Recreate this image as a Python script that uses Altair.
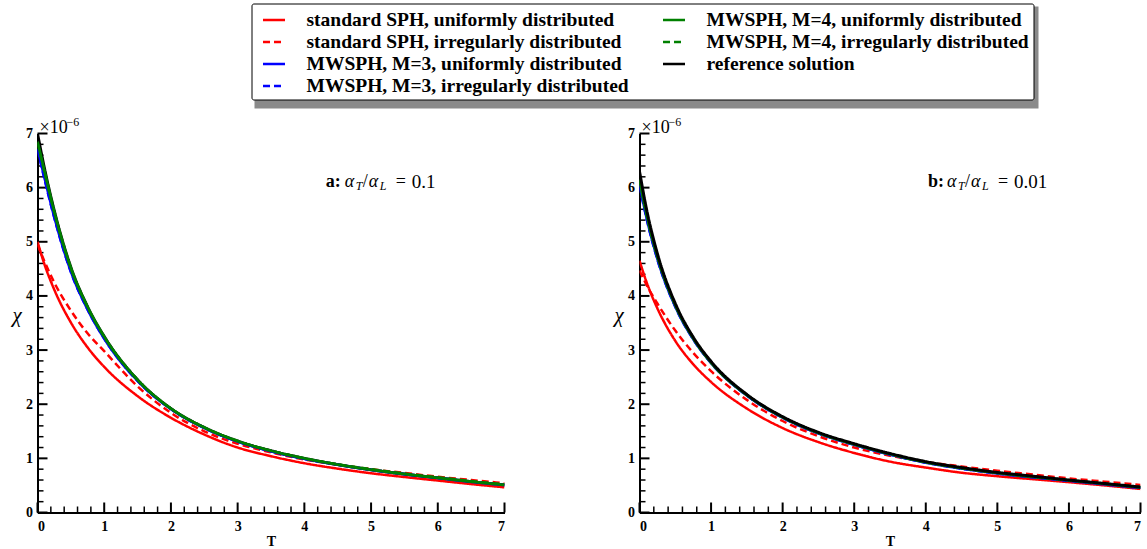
import altair as alt
import pandas as pd

# ---------------- data ----------------
T = [0, 0.1, 0.25, 0.5, 0.75, 1, 1.5, 2, 2.5, 3, 3.5, 4, 4.5, 5, 5.5, 6, 6.5, 7]

# panel a: alpha_T/alpha_L = 0.1
a_sph_uni = [5.0, 4.6, 4.12, 3.51, 3.05, 2.69, 2.15, 1.75, 1.44, 1.20, 1.04, 0.91, 0.81, 0.725, 0.655, 0.59, 0.525, 0.465]
a_sph_irr = [4.95, 4.65, 4.25, 3.73, 3.31, 2.98, 2.33, 1.84, 1.50, 1.27, 1.11, 0.98, 0.885, 0.80, 0.73, 0.66, 0.60, 0.54]
a_m3_uni = [6.72, 6.2, 5.46, 4.45, 3.75, 3.21, 2.43, 1.91, 1.56, 1.31, 1.13, 0.99, 0.88, 0.785, 0.705, 0.635, 0.565, 0.505]
a_m3_irr = [6.70, 6.18, 5.45, 4.44, 3.75, 3.21, 2.43, 1.91, 1.56, 1.31, 1.13, 0.99, 0.885, 0.79, 0.71, 0.64, 0.57, 0.51]
a_m4_uni = [6.85, 6.33, 5.56, 4.52, 3.80, 3.25, 2.45, 1.92, 1.57, 1.32, 1.14, 1.0, 0.885, 0.79, 0.71, 0.64, 0.57, 0.51]
a_m4_irr = [6.83, 6.31, 5.55, 4.51, 3.79, 3.24, 2.45, 1.92, 1.57, 1.32, 1.14, 1.0, 0.89, 0.80, 0.72, 0.65, 0.58, 0.52]
a_ref = [7.0, 6.38, 5.58, 4.53, 3.80, 3.25, 2.45, 1.92, 1.57, 1.32, 1.14, 1.0, 0.885, 0.79, 0.71, 0.64, 0.57, 0.51]

# panel b: alpha_T/alpha_L = 0.01
b_sph_uni = [4.65, 4.25, 3.77, 3.17, 2.74, 2.41, 1.92, 1.56, 1.30, 1.10, 0.94, 0.83, 0.735, 0.67, 0.615, 0.56, 0.50, 0.435]
b_sph_irr = [4.47, 4.2, 3.86, 3.36, 2.95, 2.61, 2.08, 1.69, 1.41, 1.20, 1.05, 0.935, 0.85, 0.77, 0.70, 0.63, 0.57, 0.51]
b_m3_uni = [6.05, 5.43, 4.68, 3.80, 3.20, 2.76, 2.16, 1.75, 1.46, 1.25, 1.07, 0.92, 0.81, 0.72, 0.65, 0.585, 0.52, 0.455]
b_m3_irr = [6.03, 5.42, 4.67, 3.80, 3.20, 2.76, 2.16, 1.75, 1.46, 1.25, 1.07, 0.92, 0.81, 0.72, 0.65, 0.585, 0.52, 0.455]
b_m4_uni = [6.15, 5.50, 4.73, 3.83, 3.22, 2.77, 2.17, 1.76, 1.47, 1.26, 1.08, 0.93, 0.82, 0.73, 0.66, 0.595, 0.53, 0.465]
b_m4_irr = [6.14, 5.49, 4.72, 3.83, 3.22, 2.77, 2.17, 1.76, 1.47, 1.26, 1.08, 0.93, 0.82, 0.73, 0.66, 0.595, 0.53, 0.465]
b_ref = [6.3, 5.59, 4.78, 3.86, 3.24, 2.79, 2.18, 1.77, 1.48, 1.27, 1.09, 0.94, 0.83, 0.74, 0.67, 0.60, 0.535, 0.47]

SERIES = [
    "standard SPH, uniformly distributed",
    "standard SPH, irregularly distributed",
    "MWSPH, M=3, uniformly distributed",
    "MWSPH, M=3, irregularly distributed",
    "MWSPH, M=4, uniformly distributed",
    "MWSPH, M=4, irregularly distributed",
    "reference solution",
]
COLORS = ["#ff0000", "#ff0000", "#0000ff", "#0000ff", "#008000", "#008000", "#000000"]
DASHES = [[1, 0], [7, 4], [1, 0], [7, 4], [1, 0], [7, 4], [1, 0]]
WIDTHS = [2.5, 2.5, 2.5, 2.5, 2.8, 2.5, 3.0]

A_VALUES = [a_sph_uni, a_sph_irr, a_m3_uni, a_m3_irr, a_m4_uni, a_m4_irr, a_ref]
B_VALUES = [b_sph_uni, b_sph_irr, b_m3_uni, b_m3_irr, b_m4_uni, b_m4_irr, b_ref]
A_ORDER = [6, 0, 1, 2, 3, 4, 5]        # reference hidden under green on panel a
B_ORDER = [0, 1, 2, 3, 4, 5, 6]

MAJOR = [0, 1, 2, 3, 4, 5, 6, 7]
MINOR = [0.2, 0.4, 0.6, 0.8, 1.2, 1.4, 1.6, 1.8, 2.2, 2.4, 2.6, 2.8, 3.2, 3.4, 3.6, 3.8,
         4.2, 4.4, 4.6, 4.8, 5.2, 5.4, 5.6, 5.8, 6.2, 6.4, 6.6, 6.8]

SERIF = "Liberation Serif"
H = 379
LEG_X, LEG_Y = 214, -130
LEG_W, LEG_H = 784, 102

cscale = alt.Scale(domain=SERIES, range=COLORS)
dscale = alt.Scale(domain=SERIES, range=DASHES)
legend = alt.Legend(orient="none", legendX=LEG_X, legendY=LEG_Y, title=None, columns=2)

XSCALE = alt.Scale(domain=[0, 7], nice=False, zero=False)
YSCALE = alt.Scale(domain=[0, 7], nice=False, zero=False)


def xenc(field):
    return alt.X(field, type="quantitative", scale=XSCALE,
                 axis=alt.Axis(title="T", values=MAJOR, format="d"))


def yenc(field):
    return alt.Y(field, type="quantitative", scale=YSCALE,
                 axis=alt.Axis(title="χ", values=MAJOR, format="d", titleAngle=0,
                               titleX=-21, titleY=182, titleAlign="center",
                               titleBaseline="middle"))


def panel(values, order, width, letter, number, shadow):
    layers = []
    one = pd.DataFrame({"k": [0]})
    if shadow:
        # drop shadow of the legend box
        layers.append(alt.Chart(one).mark_rect(color="#8a8a8a").encode(
            x=alt.value(LEG_X + 3), x2=alt.value(LEG_X + LEG_W + 3),
            y=alt.value(LEG_Y + 3), y2=alt.value(LEG_Y + LEG_H + 3)))
    # inward tick marks
    tmaj = pd.DataFrame({"v": MAJOR})
    tmin = pd.DataFrame({"v": MINOR})
    layers.append(alt.Chart(tmaj).mark_rule(color="black", strokeWidth=2).encode(
        y=yenc("v"), x=alt.value(0), x2=alt.value(10)))
    layers.append(alt.Chart(tmin).mark_rule(color="black", strokeWidth=1.5).encode(
        y=yenc("v"), x=alt.value(0), x2=alt.value(6)))
    layers.append(alt.Chart(tmaj).mark_rule(color="black", strokeWidth=2).encode(
        x=xenc("v"), y=alt.value(H), y2=alt.value(H - 10)))
    layers.append(alt.Chart(tmin).mark_rule(color="black", strokeWidth=1.5).encode(
        x=xenc("v"), y=alt.value(H), y2=alt.value(H - 6)))

    for i in order:
        df = pd.DataFrame({"T": T, "chi": values[i], "series": SERIES[i]})
        layers.append(alt.Chart(df).mark_line(strokeWidth=WIDTHS[i], interpolate="monotone",
                                              clip=True).encode(
            x=xenc("T"), y=yenc("chi"),
            color=alt.Color("series:N", scale=cscale, legend=legend),
            strokeDash=alt.StrokeDash("series:N", scale=dscale, legend=legend)))

    # x10^-6 multiplier
    layers.append(alt.Chart(one).mark_text(text="×10", font=SERIF, fontSize=18, align="left",
                                           baseline="middle", dx=2, dy=-6, color="black").encode(
        x=alt.datum(0), y=alt.datum(7)))
    layers.append(alt.Chart(one).mark_text(text="−6", font=SERIF, fontSize=12, align="left",
                                           baseline="middle", dx=29, dy=-12, color="black").encode(
        x=alt.datum(0), y=alt.datum(7)))
    # panel annotation
    ann_T = 4.32 if letter == "a:" else 4.03
    pieces = [
        (letter, 0, 0, 18, "bold", "normal"),
        ("α", 19, 0, 18, "normal", "italic"),
        ("T", 30, 4, 12, "normal", "italic"),
        ("/", 37, 0, 18, "normal", "normal"),
        ("α", 43, 0, 18, "normal", "italic"),
        ("L", 54, 4, 12, "normal", "italic"),
        ("=", 70, 0, 18, "normal", "normal"),
        (number, 86, 0, 19, "normal", "normal"),
    ]
    for txt, dx, dy, fs, fw, st in pieces:
        layers.append(alt.Chart(one).mark_text(text=txt, font=SERIF, fontSize=fs, fontWeight=fw,
                                               fontStyle=st, align="left", baseline="middle",
                                               dx=dx, dy=dy, color="black").encode(
            x=alt.datum(ann_T), y=alt.datum(6.11)))
    return alt.layer(*layers).properties(width=width, height=H)


left = panel(A_VALUES, A_ORDER, 467, "a:", "0.1", True)
right = panel(B_VALUES, B_ORDER, 501, "b:", "0.01", False)

chart = alt.hconcat(left, right, spacing=135, bounds="flush").properties(
    padding={"left": 11.5, "top": 2.5, "right": 0, "bottom": 0},
    background="white",
).configure_view(stroke=None).configure_axis(
    ticks=False, grid=False, domainColor="black", domainWidth=2,
    labelFont=SERIF, labelFontSize=14, labelFontWeight="bold", labelColor="black",
    titleColor="black", titleFont=SERIF,
).configure_axisX(
    labelPadding=7, titleFontSize=14, titleFontWeight="bold", titlePadding=1,
).configure_axisY(
    labelPadding=5, titleFontSize=21, titleFontStyle="italic", titleFontWeight="normal",
).configure_legend(
    labelFont=SERIF, labelFontSize=19.5, labelFontWeight="bold", labelColor="black",
    labelLimit=0, symbolType="stroke", symbolSize=484, symbolStrokeWidth=2.5,
    columnPadding=26, rowPadding=0, padding=4, symbolOffset=6, labelOffset=20,
    strokeColor="black", fillColor="white", cornerRadius=2,
)

chart.save("out.html", embed_options={"renderer": "svg", "actions": False})
